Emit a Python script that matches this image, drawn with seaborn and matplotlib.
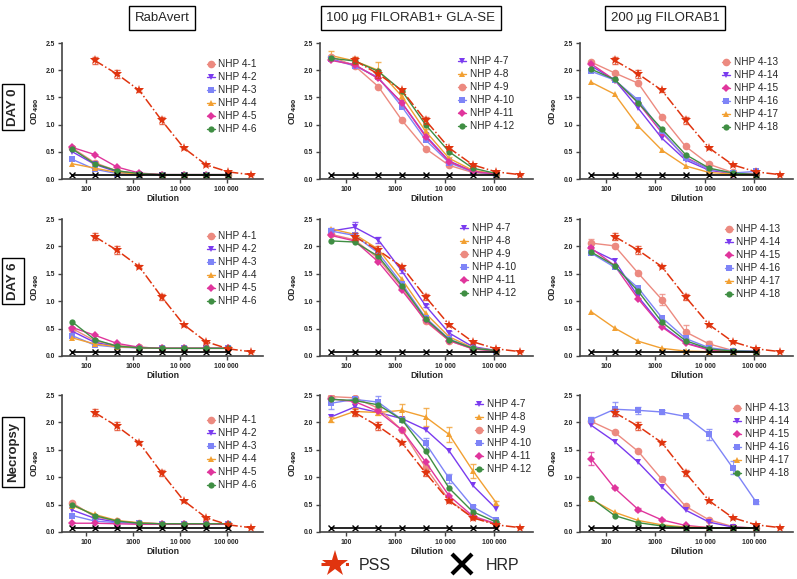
import matplotlib
matplotlib.use("Agg")
import matplotlib.pyplot as plt
from matplotlib.lines import Line2D
import numpy as np
import pandas as pd
import seaborn as sns

# ---- data ----
dilutions = [50, 150, 450, 1350, 4050, 12150, 36450, 109350]
pss_dilutions = [150, 450, 1350, 4050, 12150, 36450, 109350, 328050]
pss_od = [2.18, 1.93, 1.63, 1.08, 0.57, 0.26, 0.13, 0.08]
pss_err = [0.07, 0.07, 0.03, 0.06, 0.02, 0.02, 0.01, 0.01]
hrp_od = [0.07, 0.07, 0.07, 0.07, 0.07, 0.07, 0.07, 0.07]

groups = ["RabAvert", "100 \u00b5g FILORAB1+ GLA-SE", "200 \u00b5g FILORAB1"]
timepoints = ["DAY 0", "DAY 6", "Necropsy"]

rab_day0 = {
    "NHP 4-1": [0.57, 0.30, 0.15, 0.10, 0.08, 0.08, 0.08, 0.08],
    "NHP 4-2": [0.50, 0.27, 0.13, 0.09, 0.08, 0.08, 0.08, 0.08],
    "NHP 4-3": [0.36, 0.18, 0.10, 0.08, 0.08, 0.08, 0.08, 0.08],
    "NHP 4-4": [0.28, 0.20, 0.12, 0.09, 0.08, 0.08, 0.08, 0.08],
    "NHP 4-5": [0.58, 0.45, 0.22, 0.11, 0.08, 0.08, 0.08, 0.08],
    "NHP 4-6": [0.55, 0.28, 0.15, 0.10, 0.08, 0.08, 0.08, 0.08],
}
f100_day0 = {
    "NHP 4-7": [2.20, 2.10, 1.85, 1.40, 0.80, 0.33, 0.14, 0.09],
    "NHP 4-8": [2.27, 2.17, 2.00, 1.52, 0.88, 0.38, 0.16, 0.09],
    "NHP 4-9": [2.25, 2.08, 1.70, 1.08, 0.56, 0.25, 0.12, 0.08],
    "NHP 4-10": [2.20, 2.08, 1.87, 1.33, 0.72, 0.30, 0.13, 0.09],
    "NHP 4-11": [2.18, 2.10, 1.85, 1.40, 0.78, 0.32, 0.14, 0.09],
    "NHP 4-12": [2.22, 2.17, 1.98, 1.62, 1.00, 0.50, 0.20, 0.10],
}
f200_day0 = {
    "NHP 4-13": [2.15, 1.95, 1.76, 1.14, 0.60, 0.27, 0.12, 0.09],
    "NHP 4-14": [2.08, 1.82, 1.30, 0.75, 0.35, 0.16, 0.10, 0.08],
    "NHP 4-15": [2.12, 1.82, 1.40, 0.85, 0.40, 0.18, 0.10, 0.08],
    "NHP 4-16": [1.98, 1.82, 1.45, 0.88, 0.38, 0.18, 0.11, 0.14],
    "NHP 4-17": [1.78, 1.56, 0.97, 0.53, 0.24, 0.12, 0.09, 0.08],
    "NHP 4-18": [2.02, 1.83, 1.40, 0.92, 0.45, 0.20, 0.11, 0.08],
}
rab_day6 = {
    "NHP 4-1": [0.50, 0.28, 0.19, 0.16, 0.14, 0.14, 0.14, 0.14],
    "NHP 4-2": [0.45, 0.25, 0.17, 0.15, 0.14, 0.14, 0.14, 0.14],
    "NHP 4-3": [0.37, 0.20, 0.16, 0.15, 0.14, 0.14, 0.14, 0.15],
    "NHP 4-4": [0.33, 0.22, 0.17, 0.15, 0.14, 0.14, 0.14, 0.14],
    "NHP 4-5": [0.52, 0.38, 0.23, 0.16, 0.14, 0.14, 0.14, 0.14],
    "NHP 4-6": [0.62, 0.30, 0.18, 0.15, 0.14, 0.14, 0.14, 0.14],
}
f100_day6 = {
    "NHP 4-7": [2.28, 2.35, 2.12, 1.55, 0.92, 0.42, 0.17, 0.10],
    "NHP 4-8": [2.32, 2.22, 1.95, 1.40, 0.78, 0.35, 0.15, 0.10],
    "NHP 4-9": [2.22, 2.12, 1.78, 1.25, 0.63, 0.28, 0.13, 0.09],
    "NHP 4-10": [2.28, 2.20, 1.88, 1.32, 0.70, 0.31, 0.14, 0.10],
    "NHP 4-11": [2.20, 2.10, 1.72, 1.20, 0.65, 0.28, 0.13, 0.09],
    "NHP 4-12": [2.10, 2.08, 1.82, 1.28, 0.68, 0.30, 0.14, 0.10],
}
f200_day6 = {
    "NHP 4-13": [2.06, 2.01, 1.51, 1.03, 0.44, 0.22, 0.10, 0.08],
    "NHP 4-14": [1.95, 1.74, 1.08, 0.55, 0.24, 0.12, 0.09, 0.08],
    "NHP 4-15": [1.97, 1.65, 1.04, 0.53, 0.23, 0.11, 0.08, 0.08],
    "NHP 4-16": [1.88, 1.62, 1.24, 0.70, 0.32, 0.15, 0.10, 0.09],
    "NHP 4-17": [0.81, 0.51, 0.27, 0.14, 0.09, 0.08, 0.08, 0.08],
    "NHP 4-18": [1.90, 1.65, 1.18, 0.62, 0.28, 0.13, 0.09, 0.08],
}
rab_necropsy = {
    "NHP 4-1": [0.53, 0.28, 0.20, 0.16, 0.15, 0.15, 0.15, 0.15],
    "NHP 4-2": [0.40, 0.25, 0.18, 0.16, 0.15, 0.15, 0.15, 0.15],
    "NHP 4-3": [0.30, 0.20, 0.17, 0.16, 0.15, 0.15, 0.15, 0.15],
    "NHP 4-4": [0.48, 0.32, 0.21, 0.17, 0.15, 0.15, 0.15, 0.15],
    "NHP 4-5": [0.16, 0.16, 0.15, 0.14, 0.14, 0.14, 0.14, 0.14],
    "NHP 4-6": [0.50, 0.30, 0.20, 0.16, 0.15, 0.15, 0.15, 0.15],
}
f100_necropsy = {
    "NHP 4-7": [2.10, 2.28, 2.18, 2.07, 1.87, 1.48, 0.85, 0.42],
    "NHP 4-8": [2.05, 2.20, 2.18, 2.22, 2.10, 1.78, 1.12, 0.53],
    "NHP 4-9": [2.47, 2.45, 2.26, 1.86, 1.18, 0.58, 0.27, 0.14],
    "NHP 4-10": [2.35, 2.42, 2.37, 2.05, 1.62, 0.98, 0.46, 0.22],
    "NHP 4-11": [2.43, 2.38, 2.20, 1.86, 1.28, 0.66, 0.29, 0.15],
    "NHP 4-12": [2.42, 2.40, 2.32, 2.05, 1.48, 0.80, 0.37, 0.18],
}
f200_necropsy = {
    "NHP 4-13": [2.02, 1.82, 1.47, 0.96, 0.47, 0.22, 0.10, 0.07],
    "NHP 4-14": [1.95, 1.65, 1.27, 0.82, 0.40, 0.18, 0.09, 0.07],
    "NHP 4-15": [1.34, 0.80, 0.41, 0.22, 0.12, 0.08, 0.07, 0.07],
    "NHP 4-16": [2.05, 2.24, 2.22, 2.19, 2.11, 1.78, 1.17, 0.54],
    "NHP 4-17": [0.60, 0.36, 0.21, 0.13, 0.09, 0.08, 0.07, 0.07],
    "NHP 4-18": [0.62, 0.30, 0.17, 0.11, 0.08, 0.07, 0.07, 0.07],
}
# a few visible error bars
errors = {
    (2, 1, "NHP 4-8"): [0.05, 0.07, 0.05, 0.12, 0.17, 0.13, 0.13, 0.03],
    (2, 1, "NHP 4-10"): [0.10, 0.05, 0.12, 0.03, 0.10, 0.08, 0.03, 0.02],
    (2, 2, "NHP 4-16"): [0.05, 0.13, 0.07, 0.03, 0.03, 0.10, 0.12, 0.02],
    (2, 2, "NHP 4-15"): [0.12, 0.02, 0.02, 0.02, 0.01, 0.01, 0.01, 0.01],
    (0, 1, "NHP 4-8"): [0.08, 0.08, 0.15, 0.05, 0.04, 0.03, 0.02, 0.02],
    (1, 1, "NHP 4-7"): [0.05, 0.10, 0.06, 0.04, 0.03, 0.03, 0.02, 0.02],
    (1, 2, "NHP 4-13"): [0.08, 0.03, 0.03, 0.10, 0.12, 0.05, 0.03, 0.02],
}

panels = [
    [rab_day0, f100_day0, f200_day0],
    [rab_day6, f100_day6, f200_day6],
    [rab_necropsy, f100_necropsy, f200_necropsy],
]

# ---- styles ----
SALMON, PURPLE, BLUE = "#EC8A80", "#7A3BEF", "#7E84F7"
ORANGE, MAGENTA, GREEN = "#F2A032", "#E0359C", "#3F8E43"
RED = "#E0340F"
style = {}
for names, seq in [
    (["NHP 4-1", "NHP 4-2", "NHP 4-3", "NHP 4-4", "NHP 4-5", "NHP 4-6"],
     ["salmon", "purple", "blue", "orange", "magenta", "green"]),
    (["NHP 4-7", "NHP 4-8", "NHP 4-9", "NHP 4-10", "NHP 4-11", "NHP 4-12"],
     ["purple", "orange", "salmon", "blue", "magenta", "green"]),
    (["NHP 4-13", "NHP 4-14", "NHP 4-15", "NHP 4-16", "NHP 4-17", "NHP 4-18"],
     ["salmon", "purple", "magenta", "blue", "orange", "green"]),
]:
    for n, s in zip(names, seq):
        style[n] = {
            "salmon": (SALMON, "o", 5.5),
            "purple": (PURPLE, "v", 5),
            "blue": (BLUE, "s", 5),
            "orange": (ORANGE, "^", 5),
            "magenta": (MAGENTA, "D", 3.6),
            "green": (GREEN, "o", 4.5),
        }[s]

sns.set_style("ticks")
plt.rcParams["font.family"] = ["Liberation Sans", "DejaVu Sans"]

fig = plt.figure(figsize=(7.97, 5.79), dpi=100)
W, H = 797, 579
col_px = [(62, 263), (320, 533), (580, 793)]
row_px = [(43, 179), (219, 356), (395, 532)]
# legend anchor per panel: (axes x, pixels of first entry below top)
leg_pos = [
    [(0.70, 21), (0.63, 18), (0.65, 19)],
    [(0.70, 17), (0.64, 9), (0.66, 10)],
    [(0.70, 25), (0.71, 9), (0.70, 13)],
]

for r in range(3):
    for c in range(3):
        x0, x1 = col_px[c]
        y0, y1 = row_px[r]
        ax = fig.add_axes([x0 / W, 1 - y1 / H, (x1 - x0) / W, (y1 - y0) / H])
        ax.set_xscale("log")
        for name, vals in panels[r][c].items():
            col, mk, ms = style[name]
            sns.lineplot(x=dilutions, y=vals, ax=ax, color=col, marker=mk,
                         markersize=ms, markeredgewidth=0, linewidth=1.0,
                         label=name)
            if (r, c, name) in errors:
                ax.errorbar(dilutions, vals, yerr=errors[(r, c, name)], fmt="none",
                            ecolor=col, elinewidth=0.8, capsize=2, alpha=0.8)
        # PSS reference
        ax.errorbar(pss_dilutions, pss_od, yerr=pss_err, fmt="none", ecolor=RED,
                    elinewidth=0.8, capsize=2, alpha=0.7)
        sns.lineplot(x=pss_dilutions, y=pss_od, ax=ax, color=RED, marker="*",
                     markersize=7, markeredgewidth=0, linewidth=1.1,
                     linestyle="-.", label="_nolegend_")
        # HRP control
        sns.lineplot(x=dilutions, y=hrp_od, ax=ax, color="black", marker="x",
                     markersize=4.5, markeredgewidth=1.0, markeredgecolor="black",
                     linewidth=1.2, label="_nolegend_")

        ax.set_xlim(30, 600000)
        ax.set_ylim(0, 2.5)
        ax.set_xticks([100, 1000, 10000, 100000])
        ax.set_xticklabels(["100", "1000", "10 000", "100 000"])
        ax.minorticks_off()
        ax.set_yticks([0, 0.5, 1.0, 1.5, 2.0, 2.5])
        ax.set_yticklabels(["0.0", "0.5", "1.0", "1.5", "2.0", "2.5"])
        ax.tick_params(labelsize=4.9, length=3, width=1, color="#444444", pad=2)
        for lab in ax.get_xticklabels() + ax.get_yticklabels():
            lab.set_fontweight("bold")
        sns.despine(ax=ax)
        for sp in ["left", "bottom"]:
            ax.spines[sp].set_color("#444444")
            ax.spines[sp].set_linewidth(1.2)
        ax.set_xlabel("Dilution", fontsize=6.3, fontweight="bold", labelpad=1)
        ax.set_ylabel(r"OD$_{\mathbf{490}}$", fontsize=6.3, fontweight="bold", labelpad=3)

        lx, off = leg_pos[r][c]
        h, l = ax.get_legend_handles_labels()
        ax.legend(h, l, loc="upper left", bbox_to_anchor=(lx, 1 - (off - 9) / (y1 - y0)),
                  frameon=False, fontsize=7.2, handlelength=0.8, handletextpad=0.35,
                  labelspacing=0.3, borderaxespad=0)

# column titles
title_pos = [(162, 18), (411, 18), (665, 18)]
for t, (tx, ty) in zip(groups, title_pos):
    fig.text(tx / W, 1 - ty / H, t, ha="center", va="center", fontsize=9.5,
             bbox=dict(boxstyle="square,pad=0.45", fc="white", ec="black", lw=1))

# row labels
row_pos = [107, 281, 452]
for t, ry in zip(timepoints, row_pos):
    fig.text(13 / W, 1 - ry / H, t, ha="center", va="center", fontsize=9.5,
             fontweight="bold", rotation=90,
             bbox=dict(boxstyle="square,pad=0.35", fc="white", ec="black", lw=1))

# bottom legend
handles = [
    Line2D([], [], color=RED, marker="*", markersize=20, markeredgewidth=0,
           linestyle="-.", linewidth=2.2),
    Line2D([], [], color="black", marker="x", markersize=15, markeredgewidth=3,
           linestyle="none"),
]
fig.legend(handles, ["PSS", "HRP"], loc="center", bbox_to_anchor=(420 / W, 1 - 565 / H),
           ncol=2, frameon=False, fontsize=11.5, handlelength=1.8, handletextpad=0.6,
           columnspacing=3.5)

fig.savefig("out.png", dpi=100)
